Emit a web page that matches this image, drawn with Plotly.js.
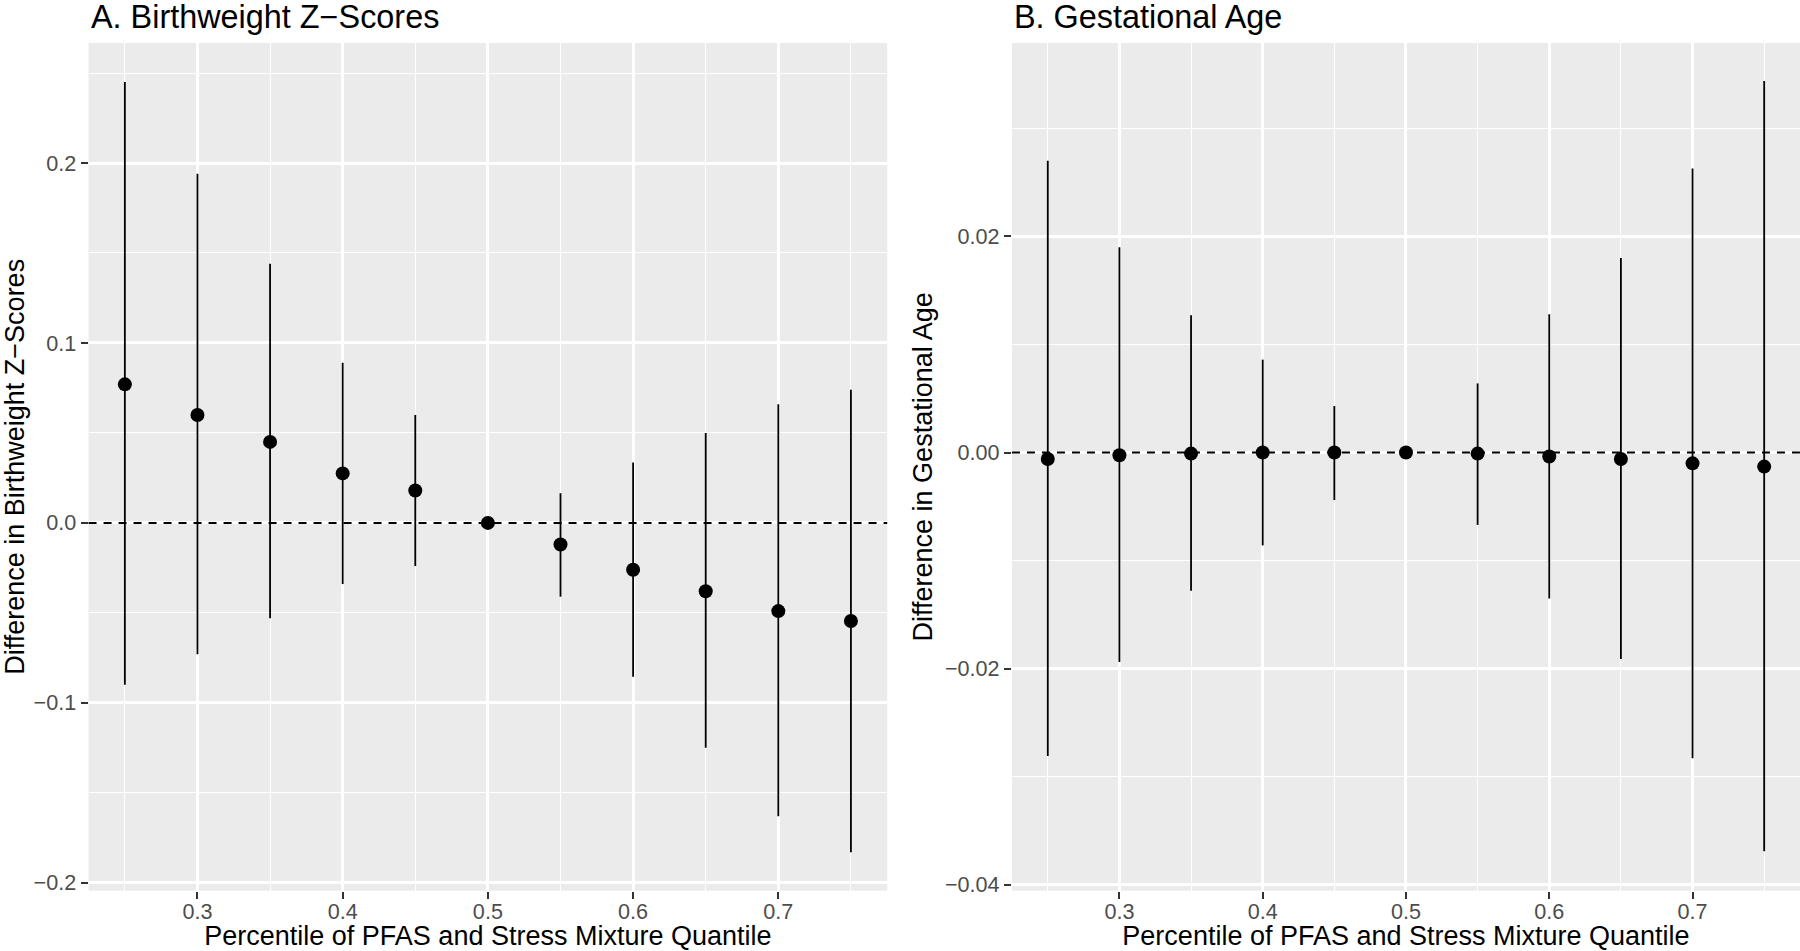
<!DOCTYPE html>
<html>
<head>
<meta charset="utf-8">
<script src="https://cdn.plot.ly/plotly-3.0.1.min.js"></script>
<style>html,body{margin:0;padding:0;background:#fff;}#chart{width:1800px;height:951px;}</style>
</head>
<body>
<div id="chart"></div>
<script>
const quantiles = [0.25, 0.30, 0.35, 0.40, 0.45, 0.50, 0.55, 0.60, 0.65, 0.70, 0.75];

const bwEst   = [0.077, 0.060, 0.045, 0.0275, 0.018, 0, -0.012, -0.026, -0.038, -0.049, -0.0545];
const bwLower = [-0.090, -0.073, -0.053, -0.034, -0.024, 0, -0.041, -0.0855, -0.125, -0.163, -0.183];
const bwUpper = [0.245, 0.194, 0.144, 0.089, 0.060, 0, 0.0165, 0.0335, 0.050, 0.066, 0.074];

const gaEst   = [-0.0006, -0.00025, -0.0001, 0, 0, 0, -0.0001, -0.00037, -0.0006, -0.001, -0.0013];
const gaLower = [-0.0281, -0.0194, -0.0128, -0.0086, -0.0044, 0, -0.0067, -0.0135, -0.0191, -0.0283, -0.0369];
const gaUpper = [0.0270, 0.0190, 0.0127, 0.0086, 0.0043, 0, 0.0064, 0.0128, 0.0180, 0.0263, 0.0344];

const panelTitles = ["A. Birthweight Z\u2212Scores", "B. Gestational Age"];
const xTitle = "Percentile of PFAS and Stress Mixture Quantile";
const yTitles = ["Difference in Birthweight Z\u2212Scores", "Difference in Gestational Age"];

const FONT = "Liberation Sans, Arial, sans-serif";

function mkTrace(est, lo, hi, xa, ya) {
  return {
    type: "scatter", mode: "markers",
    x: quantiles, y: est, xaxis: xa, yaxis: ya,
    marker: {color: "#000000", size: 14},
    error_y: {
      type: "data", symmetric: false,
      array: hi.map((h, i) => h - est[i]),
      arrayminus: lo.map((l, i) => est[i] - l),
      color: "#000000", thickness: 1.8, width: 0
    },
    showlegend: false, hoverinfo: "x+y"
  };
}

const common = {
  showgrid: true, gridcolor: "#FFFFFF", gridwidth: 2.6,
  zeroline: false, showline: false,
  ticks: "outside", ticklen: 7, tickwidth: 2.2, tickcolor: "#333333",
  tickfont: {family: FONT, size: 21.6, color: "#4D4D4D"},
  automargin: false
};

function xAxis(domain, anchor) {
  return Object.assign({}, common, {
    domain: domain, anchor: anchor, range: [0.225, 0.775],
    tickmode: "array",
    tickvals: [0.3, 0.4, 0.5, 0.6, 0.7], ticktext: ["0.3","0.4","0.5","0.6","0.7"],
    ticklabelstandoff: -6,
    minor: {tickmode: "array", tickvals: [0.25, 0.35, 0.45, 0.55, 0.65, 0.75], showgrid: true, gridcolor: "#FFFFFF", gridwidth: 1.3},
    title: {text: xTitle, font: {family: FONT, size: 27, color: "#000000"}, standoff: 11}
  });
}
function yAxis(domain, anchor, range, tv, tt, minorv, title, standoff) {
  return Object.assign({}, common, {
    domain: domain, anchor: anchor, range: range,
    tickmode: "array",
    tickvals: tv, ticktext: tt,
    minor: {tickmode: "array", tickvals: minorv, showgrid: true, gridcolor: "#FFFFFF", gridwidth: 1.3},
    title: {text: title, font: {family: FONT, size: 27, color: "#000000"}, standoff: standoff}
  });
}

const data = [
  mkTrace(bwEst, bwLower, bwUpper, "x", "y"),
  mkTrace(gaEst, gaLower, gaUpper, "x2", "y2")
];

const ydom = [0.0634, 0.9548];

const layout = {
  width: 1800, height: 951,
  margin: {l: 0, r: 0, t: 0, b: 0},
  paper_bgcolor: "#FFFFFF", plot_bgcolor: "#EBEBEB",
  showlegend: false,
  xaxis: xAxis([0.0492, 0.4929], "y"),
  yaxis: yAxis(ydom, "x", [-0.2044, 0.2667], [-0.2, -0.1, 0, 0.1, 0.2], ["\u22120.2", "\u22120.1", "0.0", "0.1", "0.2"], [-0.15, -0.05, 0.05, 0.15, 0.25], yTitles[0], 18),
  xaxis2: xAxis([0.5622, 1.0], "y2"),
  yaxis2: yAxis(ydom, "x2", [-0.04056, 0.03791], [-0.04, -0.02, 0, 0.02], ["\u22120.04", "\u22120.02", "0.00", "0.02"], [-0.03, -0.01, 0.01, 0.03], yTitles[1], 4),
  shapes: [
    {type: "line", xref: "x domain", yref: "y", x0: 0, x1: 1, y0: 0, y1: 0, layer: "above",
     line: {color: "#000000", width: 2, dash: "8px,7px"}},
    {type: "line", xref: "x2 domain", yref: "y2", x0: 0, x1: 1, y0: 0, y1: 0, layer: "above",
     line: {color: "#000000", width: 2, dash: "8px,7px"}}
  ],
  annotations: [
    {text: panelTitles[0], xref: "paper", yref: "paper", x: 0.0492, y: 1, xanchor: "left", yanchor: "top",
     yshift: 3, showarrow: false, font: {family: FONT, size: 32.4, color: "#000000"}},
    {text: panelTitles[1], xref: "paper", yref: "paper", x: 0.5622, y: 1, xanchor: "left", yanchor: "top",
     yshift: 3, showarrow: false, font: {family: FONT, size: 32.4, color: "#000000"}}
  ]
};

Plotly.newPlot("chart", data, layout, {displayModeBar: false});
</script>
</body>
</html>
